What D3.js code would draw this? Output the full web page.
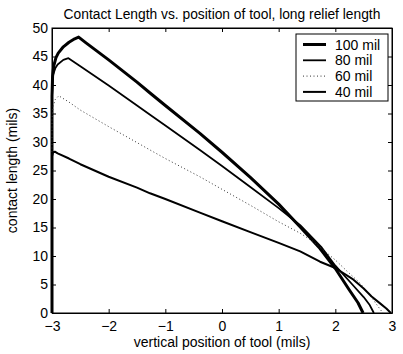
<!DOCTYPE html>
<html>
<head>
<meta charset="utf-8">
<script src="https://cdn.jsdelivr.net/npm/d3@7"></script>
<style>
  body { margin: 0; background: #fff; }
  svg { display: block; font-family: "Liberation Sans", Arial, sans-serif; }
</style>
</head>
<body>
<svg></svg>
<script>
let width = 403
let height = 354

// data
let seriesNames = ['100 mil', '80 mil', '60 mil', '40 mil']

let x100 = [-3, -3, -2.99, -2.97, -2.93, -2.89, -2.8, -2.7, -2.6, -2.53, -2.4, -2, -1.5, -1.27, -1, -0.39, 0, 0.5, 1, 1.38, 1.73, 2.0, 2.25, 2.4, 2.49]
let y100 = [0, 38, 41.5, 43.3, 44.8, 45.6, 46.7, 47.5, 48.1, 48.4, 47.4, 44.4, 40.5, 38.6, 36.4, 31.5, 28.2, 23.8, 19.1, 15.1, 11.3, 7.8, 4.0, 1.8, 0]

let x80 = [-3, -3, -2.98, -2.94, -2.9, -2.8, -2.71, -2.5, -2, -1.5, -1.27, -1, -0.39, 0, 0.5, 1, 1.38, 1.75, 2.0, 2.3, 2.5, 2.6, 2.68]
let y80 = [0, 38, 41.8, 43.0, 43.6, 44.4, 44.7, 43.3, 39.9, 36.4, 34.8, 32.9, 28.6, 25.8, 22.1, 18.4, 15.4, 11.6, 8.3, 5.0, 2.8, 1.5, 0]

let x60 = [-3, -3, -2.98, -2.94, -2.88, -2.7, -2.5, -2, -1.5, -1.27, -1, -0.39, 0, 0.5, 1, 1.38, 1.6, 2.0, 2.2, 2.43, 2.6, 2.75, 2.84]
let y60 = [0, 34, 36.3, 37.5, 38.1, 37.0, 35.6, 32.7, 29.9, 28.6, 27.1, 23.9, 21.7, 18.9, 16.0, 14.0, 12.6, 9.3, 7.4, 5.3, 3.3, 1.2, 0]

let x40 = [-3, -3, -2.98, -2.95, -2.9, -2.7, -2.5, -2, -1.5, -1.27, -1, -0.39, 0, 0.5, 1, 1.38, 1.73, 2.0, 2.3, 2.5, 2.64, 2.8, 2.9, 2.98]
let y40 = [0, 27.5, 28.2, 28.3, 28.0, 27.1, 26.1, 23.9, 22.0, 21.0, 20.0, 17.6, 16.1, 14.2, 12.3, 10.8, 9.0, 7.9, 6.0, 4.3, 2.9, 1.6, 0.8, 0]

let xTicks = [-3, -2, -1, 0, 1, 2, 3]
let yTicks = [0, 5, 10, 15, 20, 25, 30, 35, 40, 45, 50]

let plotL = 52, plotR = 392, plotT = 28, plotB = 313
let fontSize = 14

let svg = d3.select('svg')
    .attr('width', width)
    .attr('height', height)

let xScale = d3.scaleLinear().domain([-3, 3]).range([plotL, plotR])
let yScale = d3.scaleLinear().domain([0, 50]).range([plotB, plotT])

let minus = (d) => String(d).replace('-', '\u2212')

// axes, MATLAB style: ticks inward, box all around
let tickLen = 4
svg.append('g')
   .attr('transform', 'translate(0,' + plotB + ')')
   .call(d3.axisBottom(xScale).tickValues(xTicks).tickSizeInner(-tickLen).tickSizeOuter(0).tickPadding(8).tickFormat(minus))
svg.append('g')
   .attr('transform', 'translate(0,' + plotT + ')')
   .call(d3.axisTop(xScale).tickValues(xTicks).tickSizeInner(-tickLen).tickSizeOuter(0).tickFormat(''))
svg.append('g')
   .attr('transform', 'translate(' + plotL + ',0)')
   .call(d3.axisLeft(yScale).tickValues(yTicks).tickSizeInner(-tickLen).tickSizeOuter(0).tickPadding(4))
svg.append('g')
   .attr('transform', 'translate(' + plotR + ',0)')
   .call(d3.axisRight(yScale).tickValues(yTicks).tickSizeInner(-tickLen).tickSizeOuter(0).tickFormat(''))

svg.selectAll('.domain').attr('stroke', '#000').attr('stroke-width', 1)
svg.selectAll('.tick line').attr('stroke', '#000')
svg.selectAll('.tick text').attr('font-size', fontSize).attr('fill', '#000')
    .attr('font-family', '"Liberation Sans", Arial, sans-serif')

svg.append('rect')
   .attr('x', plotL).attr('y', plotT)
   .attr('width', plotR - plotL).attr('height', plotB - plotT)
   .attr('fill', 'none').attr('stroke', '#000')

let styles = [
  { w: 3, dash: null, color: '#000' },
  { w: 1.8, dash: null, color: '#000' },
  { w: 1, dash: '1,2.5', color: '#333' },
  { w: 2, dash: null, color: '#000' }
]

let series = [
  d3.zip(x100, y100),
  d3.zip(x80, y80),
  d3.zip(x60, y60),
  d3.zip(x40, y40)
]

let line = d3.line()
    .x(d => xScale(d[0]))
    .y(d => yScale(d[1]))

series.forEach((s, i) => {
  svg.append('path')
     .attr('d', line(s))
     .attr('fill', 'none')
     .attr('stroke', styles[i].color)
     .attr('stroke-width', styles[i].w)
     .attr('stroke-dasharray', styles[i].dash)
     .attr('stroke-linejoin', 'round')
})

// legend
let lg = svg.append('g')
lg.append('rect')
  .attr('x', 296).attr('y', 34).attr('width', 92).attr('height', 67)
  .attr('fill', '#fff').attr('stroke', '#000')
seriesNames.forEach((name, i) => {
  let yy = 44.5 + i * 15.8
  lg.append('line')
    .attr('x1', 303).attr('x2', 326).attr('y1', yy).attr('y2', yy)
    .attr('stroke', styles[i].color)
    .attr('stroke-width', styles[i].w)
    .attr('stroke-dasharray', styles[i].dash)
  lg.append('text')
    .attr('x', 335).attr('y', yy + 5)
    .attr('font-size', fontSize)
    .text(name)
})

// titles
svg.append('text')
   .attr('x', (plotL + plotR) / 2).attr('y', 19)
   .attr('text-anchor', 'middle').attr('font-size', fontSize - 0.2)
   .text('Contact Length vs. position of tool, long relief length')

svg.append('text')
   .attr('x', (plotL + plotR) / 2).attr('y', 347)
   .attr('text-anchor', 'middle').attr('font-size', fontSize)
   .text('vertical position of tool (mils)')

svg.append('text')
   .attr('transform', 'translate(17,' + ((plotT + plotB) / 2) + ') rotate(-90)')
   .attr('text-anchor', 'middle').attr('font-size', fontSize)
   .text('contact length (mils)')
</script>
</body>
</html>
